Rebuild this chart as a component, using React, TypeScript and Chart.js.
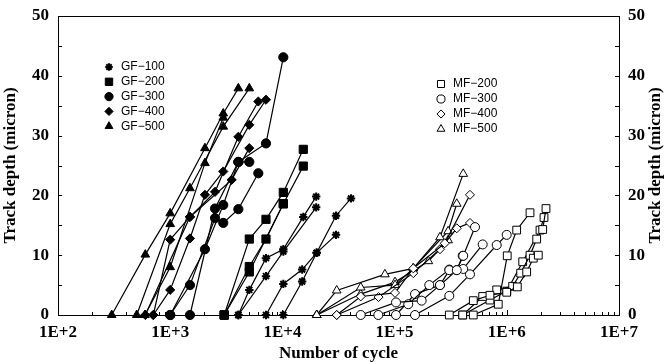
import React, { useEffect, useRef } from 'react';
import { Chart, registerables } from 'chart.js';
import { drawPoint } from 'chart.js/helpers';

Chart.register(...registerables);

const xTickValues = [1e2, 1e3, 1e4, 1e5, 1e6, 1e7];
const xTickLabels = ['1E+2', '1E+3', '1E+4', '1E+5', '1E+6', '1E+7'];
const yTickValues = [0, 10, 20, 30, 40, 50];
const xTitle = 'Number of cycle';
const yTitle = 'Track depth (micron)';

type Pt = [number, number];

// GF-100
const gf100a: Pt[] = [[4050, 0], [5070, 4.2], [7140, 9.5], [10190, 11.0], [15350, 16.4], [20000, 19.8]];
const gf100b: Pt[] = [[4050, 0], [7140, 6.5], [10190, 10.6], [20000, 18.0]];
const gf100c: Pt[] = [[7140, 0], [10190, 5.2], [15000, 7.6], [20200, 10.4], [30050, 16.6], [40840, 19.5]];
const gf100d: Pt[] = [[10190, 0], [15000, 5.6], [20200, 10.4], [30050, 13.4]];
// GF-200
const gf200a: Pt[] = [[3030, 0], [5070, 12.7], [7140, 16.0], [10190, 20.5], [15350, 27.7]];
const gf200b: Pt[] = [[3030, 0], [5070, 8.1], [7140, 12.7], [10190, 18.6], [15350, 24.9]];
const gf200c: Pt[] = [[3030, 0], [5070, 7.2], [10190, 18.6]];
// GF-300
const gf300a: Pt[] = [[1000, 0], [2040, 11.0], [2970, 18.4], [4050, 25.6], [7140, 28.7], [10190, 43.1]];
const gf300b: Pt[] = [[1500, 0], [2510, 17.8], [4050, 25.6], [5070, 25.6]];
const gf300c: Pt[] = [[1000, 0], [1500, 5.0], [2510, 16.2], [2970, 15.4], [4050, 17.7], [6100, 23.7]];
// GF-400
const gf400a: Pt[] = [[707, 0], [1000, 12.6], [1500, 16.4], [2510, 20.6], [4050, 29.8], [6100, 35.7]];
const gf400b: Pt[] = [[707, 0], [1000, 4.2], [1500, 12.8], [2040, 20.1], [2970, 24.0], [5070, 31.8], [7140, 36.0]];
const gf400c: Pt[] = [[600, 0], [1500, 16.4], [3530, 22.6], [5070, 27.9]];
// GF-500
const gf500a: Pt[] = [[301, 0], [600, 10.1], [1000, 17.0], [2040, 27.9], [2970, 33.7], [4050, 37.9]];
const gf500b: Pt[] = [[503, 0], [1000, 15.2], [1500, 21.2], [2970, 31.5], [5070, 37.9]];
const gf500c: Pt[] = [[596, 0], [1000, 8.0], [2040, 25.4], [2970, 33.0]];
// MF-200
const mf200a: Pt[] = [[307300, 0], [502700, 2.4], [707900, 3.3], [997700, 3.8], [1241000, 4.7], [1504000, 7.2], [1723000, 9.5], [1909000, 10.0]];
const mf200b: Pt[] = [[404500, 0], [609600, 3.1], [812800, 4.2], [1128000, 4.8], [1330000, 7.0], [1610000, 10.0], [1847000, 12.7], [2089000, 14.3], [2235000, 17.8]];
const mf200c: Pt[] = [[502700, 0], [839500, 1.8], [1009000, 9.9], [1225000, 14.2], [1610000, 17.1]];
const mf200d: Pt[] = [[404500, 0], [707900, 2.5], [1000000, 4.0], [1386000, 8.9], [1977000, 14.2], [2146000, 16.3]];
// MF-300
const mf300a: Pt[] = [[49900, 0], [102900, 2.1], [174200, 2.4], [253800, 5.0], [307300, 7.5], [358200, 7.5], [409000, 9.9], [520700, 14.7]];
const mf300b: Pt[] = [[71600, 0], [132400, 1.8], [203700, 5.0], [307300, 7.6], [409000, 7.7], [609600, 11.8]];
const mf300c: Pt[] = [[102900, 0], [152000, 3.5], [253800, 5.0], [358200, 7.5], [404500, 9.9]];
const mf300d: Pt[] = [[152000, 0], [307300, 3.2], [469700, 6.8], [812800, 11.7], [997700, 13.4]];
// MF-400
const mf400a: Pt[] = [[30480, 0], [49900, 3.1], [100900, 3.7], [146800, 7.8], [280000, 12.0], [469700, 20.1]];
const mf400b: Pt[] = [[30480, 0], [72000, 3.0], [146800, 7.0], [253800, 11.0], [358200, 14.5], [469700, 15.4]];
// MF-500
const mf500a: Pt[] = [[20230, 0], [30480, 4.1], [82000, 6.8], [146800, 7.8], [253800, 13.0], [409000, 23.6]];
const mf500b: Pt[] = [[20230, 0], [49900, 4.6], [100900, 5.0], [146800, 7.8], [300000, 14.0], [358200, 18.6]];
const mf500c: Pt[] = [[20230, 0], [49900, 3.5], [100900, 5.5], [200000, 9.0], [300000, 12.5]];

type Group = { label: string; style: any; filled: boolean; radius: number; bw: number; series: Pt[][] };

const gfGroups: Group[] = [
  { label: 'GF\u2212100', style: 'star', filled: true, radius: 4.2, bw: 2, series: [gf100a, gf100b, gf100c, gf100d] },
  { label: 'GF\u2212200', style: 'rect', filled: true, radius: 5.8, bw: 1, series: [gf200a, gf200b, gf200c] },
  { label: 'GF\u2212300', style: 'circle', filled: true, radius: 4.6, bw: 1, series: [gf300a, gf300b, gf300c] },
  { label: 'GF\u2212400', style: 'rectRot', filled: true, radius: 4.6, bw: 1, series: [gf400a, gf400b, gf400c] },
  { label: 'GF\u2212500', style: 'triangle', filled: true, radius: 5, bw: 1, series: [gf500a, gf500b, gf500c] },
];
const mfGroups: Group[] = [
  { label: 'MF\u2212200', style: 'rect', filled: false, radius: 5.5, bw: 1, series: [mf200a, mf200b, mf200c, mf200d] },
  { label: 'MF\u2212300', style: 'circle', filled: false, radius: 4.5, bw: 1, series: [mf300a, mf300b, mf300c, mf300d] },
  { label: 'MF\u2212400', style: 'rectRot', filled: false, radius: 4.5, bw: 1, series: [mf400a, mf400b] },
  { label: 'MF\u2212500', style: 'triangle', filled: false, radius: 5, bw: 1, series: [mf500a, mf500b, mf500c] },
];

const SERIF = '"Liberation Serif", "Times New Roman", serif';
const SANS = '"Liberation Sans", Arial, sans-serif';

const framePlugin = {
  id: 'frame',
  beforeDatasetsDraw(chart: any) {
    const { ctx, chartArea: a, scales } = chart;
    const xs = scales.x;
    const ys = scales.y;
    ctx.save();
    ctx.strokeStyle = '#000';
    ctx.lineWidth = 1;
    ctx.strokeRect(Math.round(a.left) + 0.5, Math.round(a.top) + 0.5, Math.round(a.right - a.left), Math.round(a.bottom - a.top));
    ctx.beginPath();
    for (let d = 2; d < 7; d++) {
      for (let m = 1; m <= 9; m++) {
        const v = m * Math.pow(10, d);
        const px = Math.round(xs.getPixelForValue(v)) + 0.5;
        const len = m === 1 ? 5 : 3;
        ctx.moveTo(px, a.bottom);
        ctx.lineTo(px, a.bottom - len);
      }
    }
    for (let v = 5; v < 50; v += 5) {
      const py = Math.round(ys.getPixelForValue(v)) + 0.5;
      ctx.moveTo(a.left, py);
      ctx.lineTo(a.left + 4, py);
      ctx.moveTo(a.right, py);
      ctx.lineTo(a.right - 4, py);
    }
    ctx.stroke();
    ctx.restore();
  },
  afterDraw(chart: any) {
    const { ctx, chartArea: a, scales } = chart;
    const xs = scales.x;
    const ys = scales.y;
    ctx.save();
    ctx.fillStyle = '#000';
    ctx.font = `bold 17px ${SERIF}`;
    ctx.textBaseline = 'middle';
    yTickValues.forEach((v) => {
      const py = ys.getPixelForValue(v);
      ctx.textAlign = 'right';
      ctx.fillText(String(v), a.left - 9, py);
      ctx.textAlign = 'left';
      ctx.fillText(String(v), a.right + 9, py);
    });
    ctx.textAlign = 'center';
    xTickValues.forEach((v, i) => {
      ctx.fillText(xTickLabels[i], xs.getPixelForValue(v), 333);
    });
    ctx.fillText(xTitle, (a.left + a.right) / 2, 354);
    const cy = (a.top + a.bottom) / 2;
    [11, 656].forEach((x) => {
      ctx.save();
      ctx.translate(x, cy);
      ctx.rotate(-Math.PI / 2);
      ctx.fillText(yTitle, 0, 0);
      ctx.restore();
    });
    // legends
    ctx.font = `12px ${SANS}`;
    ctx.textAlign = 'left';
    const drawLegend = (groups: Group[], mx: number, tx: number, y0: number, dy: number) => {
      groups.forEach((g, i) => {
        const y = y0 + i * dy;
        ctx.save();
        ctx.fillStyle = g.filled ? '#000' : '#fff';
        ctx.strokeStyle = '#000';
        ctx.lineWidth = g.bw;
        drawPoint(ctx, { pointStyle: g.style, radius: g.radius * 0.9, rotation: 0, borderWidth: g.bw }, mx, y);
        ctx.restore();
        ctx.fillStyle = '#000';
        ctx.fillText(g.label, tx, y);
      });
    };
    drawLegend(gfGroups, 109, 121, 67, 14.8);
    drawLegend(mfGroups, 441, 453, 84, 15);
    ctx.restore();
  },
};

export default function App() {
  const ref = useRef<HTMLCanvasElement | null>(null);
  useEffect(() => {
    if (!ref.current) return;
    const datasets: any[] = [];
    [...gfGroups, ...mfGroups].forEach((g) => {
      g.series.forEach((s) => {
        datasets.push({
          label: g.label,
          data: s.map(([x, y]) => ({ x, y })),
          borderColor: '#000',
          borderWidth: 1.2,
          pointStyle: g.style,
          pointRadius: g.radius,
          pointBackgroundColor: g.filled ? '#000' : '#fff',
          pointBorderColor: '#000',
          pointBorderWidth: g.bw,
          showLine: true,
          tension: 0,
          clip: false,
        });
      });
    });
    const chart = new Chart(ref.current, {
      type: 'line',
      data: { datasets },
      plugins: [framePlugin],
      options: {
        animation: false,
        responsive: false,
        devicePixelRatio: 1,
        layout: { padding: { left: 58, right: 48, top: 16, bottom: 48 } },
        plugins: { legend: { display: false }, tooltip: { enabled: false } },
        scales: {
          x: { type: 'logarithmic', min: 100, max: 1e7, display: false },
          y: { type: 'linear', min: 0, max: 50, display: false },
        },
      } as any,
    });
    return () => chart.destroy();
  }, []);
  return (
    <div style={{ position: 'fixed', left: 0, top: 0, width: 667, height: 363, background: '#fff' }}>
      <canvas ref={ref} width={667} height={363} />
    </div>
  );
}
